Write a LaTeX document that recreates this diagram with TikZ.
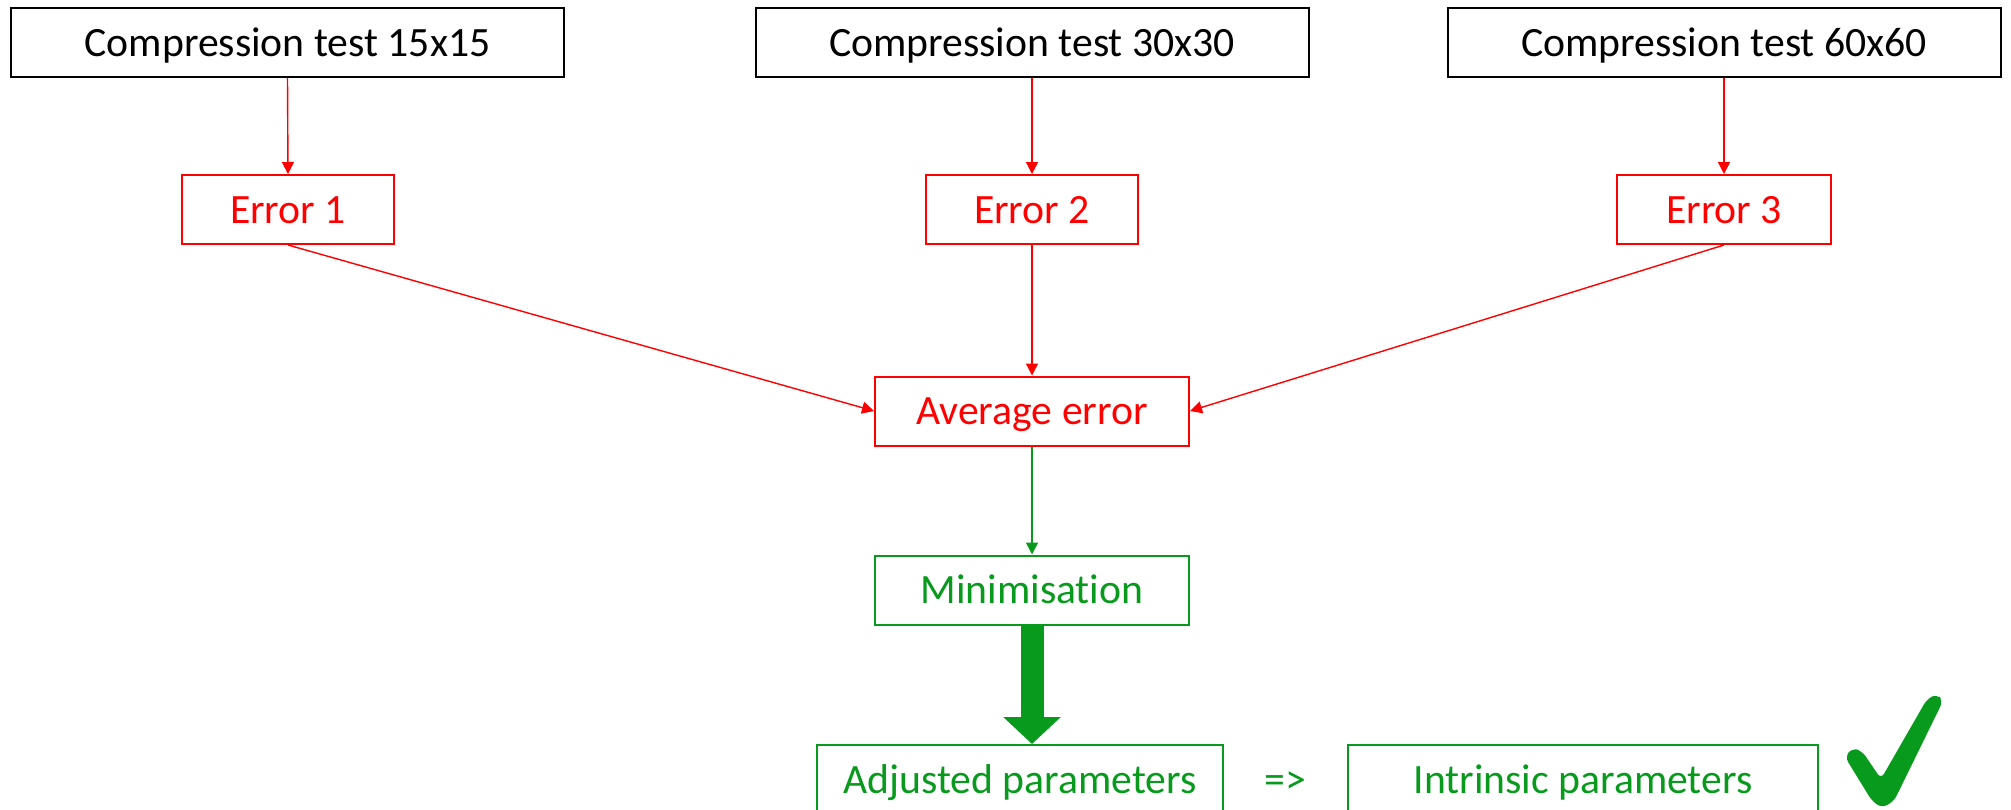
\documentclass[tikz,border=0pt]{standalone}
\usepackage{fontspec}
\setmainfont{Carlito}[Ligatures = NoCommon]
\usetikzlibrary{arrows.meta}
\definecolor{errred}{HTML}{FF0000}
\definecolor{okgreen}{HTML}{079A1C}

\begin{document}
\begin{tikzpicture}[x = 0.5pt, y = -0.5pt, font = \fontsize{20.85pt}{25pt}\selectfont,
	every node/.style = {rectangle, inner sep = 0pt, text height = 13.55pt, text depth = 0pt, minimum height = 34.5pt},
	testbox/.style = {draw = black, line width = 1pt, minimum width = 276.5pt},
	errbox/.style = {draw = errred, line width = 1pt, text = errred},
	okbox/.style = {draw = okgreen, line width = 1pt, text = okgreen},
	link/.style = {-{Triangle[width = 6pt, length = 6pt]}, line width = 0.7pt}]

	\useasboundingbox (0, 0) rectangle (2011, 809);
	\clip (0, 0) rectangle (2011, 809);

	\node [testbox] (test15) at (287.5, 42.5) {Compression test 15x15};
	\node [testbox] (test30) at (1032, 42.5) {Compression test 30x30};
	\node [testbox] (test60) at (1724, 42.5) {Compression test 60x60};

	\node [errbox, minimum width = 106pt] (err1) at (288, 209.5) {Error 1};
	\node [errbox, minimum width = 106pt] (err2) at (1032, 209.5) {Error 2};
	\node [errbox, minimum width = 107pt] (err3) at (1724, 209.5) {Error 3};

	\node [errbox, minimum width = 157pt] (avg) at (1032, 411) {Average error};
	\node [okbox, minimum width = 157pt] (mini) at (1032, 590) {Minimisation};

	\node [okbox, minimum width = 203pt, minimum height = 35pt] (adjusted) at (1020, 780) {Adjusted parameters};
	\node [text = okgreen] (implies) at (1285, 780) {=>};
	\node [okbox, minimum width = 235pt, minimum height = 35pt] (intrinsic) at (1583, 780) {Intrinsic parameters};

	\draw [link, errred] (test15.south) -- (err1.north);
	\draw [link, errred] (test30.south) -- (err2.north);
	\draw [link, errred] (test60.south) -- (err3.north);
	\draw [link, errred] (err1.south) -- (avg.west);
	\draw [link, errred] (err2.south) -- (avg.north);
	\draw [link, errred] (err3.south) -- (avg.east);
	\draw [link, okgreen] (avg.south) -- (mini.north);
	\draw [okgreen, line width = 11.5pt, -{Triangle[width = 28pt, length = 13.5pt]}] (mini.south) -- (mini.south |- adjusted.north);

	% check mark
	\fill [okgreen, rounded corners = 3pt] (1845, 757) -- (1852, 748) -- (1862, 751) -- (1881, 779) -- (1927, 699) -- (1937, 694) -- (1943, 701) -- (1894, 801) -- (1882, 808) -- (1872, 801) -- cycle;

\end{tikzpicture}
\end{document}
